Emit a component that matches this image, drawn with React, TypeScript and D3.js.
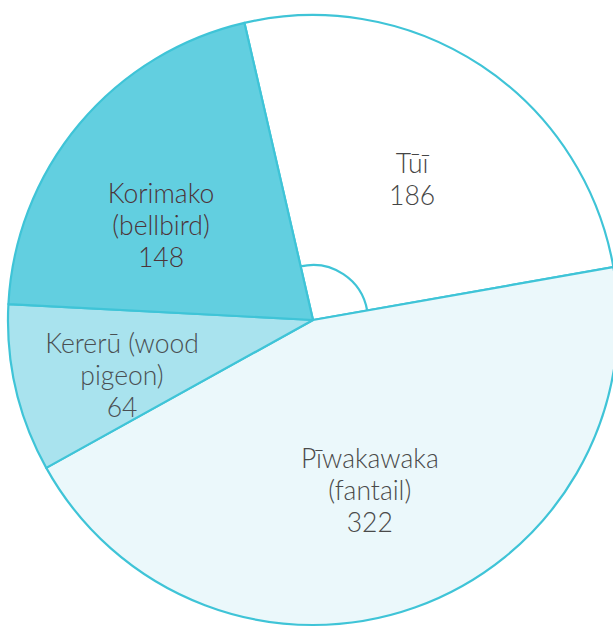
import React from "react";
import * as d3 from "d3";

const birds = ["Tūī", "Pīwakawaka", "Kererū", "Korimako"];
const counts = [186, 322, 64, 148];
const labelLines = [
  ["Tūī", "186"],
  ["Pīwakawaka", "(fantail)", "322"],
  ["Kererū (wood", "pigeon)", "64"],
  ["Korimako", "(bellbird)", "148"],
];
const fills = ["#ffffff", "#ebf8fb", "#a9e3ee", "#62cfe0"];
const textColors = ["#454545", "#4a4a4a", "#4a4f52", "#4d3338"];
const labelAngleDeg = [35.3, 161.6, 253.7, 301.7];
const labelRadius = [171.5, 180, 199, 178.7];

const W = 613;
const H = 627;
const cx = 313;
const cy = 320;
const R = 305;

export default function App() {
  const pie = d3
    .pie<number>()
    .sort(null)
    .startAngle((-13 * Math.PI) / 180)
    .endAngle(((360 - 13) * Math.PI) / 180);
  const arcs = pie(counts);
  const arc = d3.arc<d3.PieArcDatum<number>>().innerRadius(0).outerRadius(R);
  const tui = arcs[0];
  const mark = d3
    .arc()
    .innerRadius(55)
    .outerRadius(55)
    .startAngle(tui.startAngle)
    .endAngle(tui.endAngle);
  const lineH = 32;
  return (
    <svg
      width={W}
      height={H}
      style={{ position: "absolute", left: 0, top: 0, background: "#fff" }}
    >
      <g transform={`translate(${cx},${cy})`}>
        {arcs.map((a, i) => (
          <path
            key={birds[i]}
            d={arc(a) || ""}
            fill={fills[i]}
            stroke="#3fc4d7"
            strokeWidth={2.2}
            strokeLinejoin="round"
          />
        ))}
        <path d={(mark as any)() || ""} fill="none" stroke="#3fc4d7" strokeWidth={2.2} />
        {arcs.map((a, i) => {
          const ang = (labelAngleDeg[i] * Math.PI) / 180;
          const x = labelRadius[i] * Math.sin(ang);
          const y = -labelRadius[i] * Math.cos(ang);
          const lines = labelLines[i];
          const y0 = y - ((lines.length - 1) * lineH) / 2;
          return (
            <text
              key={"t" + birds[i]}
              textAnchor="middle"
              fontFamily="Lato, 'Open Sans', sans-serif"
              fontWeight={300}
              fontSize={26.5}
              fill={textColors[i]}
            >
              {lines.map((l, j) => (
                <tspan key={j} x={x} y={y0 + j * lineH} dy="0.35em">
                  {l}
                </tspan>
              ))}
            </text>
          );
        })}
      </g>
    </svg>
  );
}
